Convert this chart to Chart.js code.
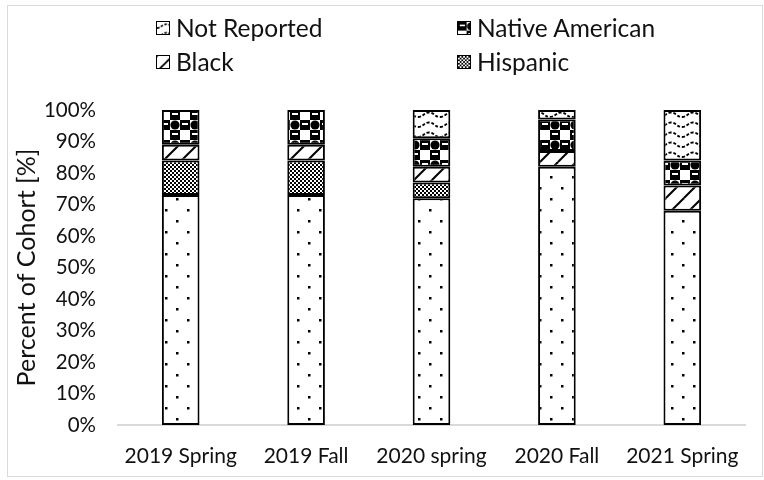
<!DOCTYPE html>
<html>
<head>
<meta charset="utf-8">
<script src="https://cdn.jsdelivr.net/npm/chart.js@4"></script>
<style>
  html, body { margin: 0; padding: 0; background: #fff; }
  #wrap { position: relative; width: 764px; height: 480px; font-family: Lato, 'Open Sans', sans-serif; }
  #frame { position: absolute; left: 7px; top: 5px; width: 754px; height: 470px; border: 1.5px solid #d9d9d9; pointer-events: none; }
  canvas#chart { position: absolute; left: 0; top: 0; }
  .leg { position: absolute; display: flex; align-items: center; font-size: 24.5px; color: #111; white-space: nowrap; }
  .leg canvas { width: 14px; height: 14px; margin-right: 6px; border: 1px solid #000; box-sizing: border-box; }
</style>
</head>
<body>
<div id="wrap">
  <canvas id="chart" width="764" height="480"></canvas>
  <div id="frame"></div>
  <div class="leg" style="left:156px;top:13px"><canvas data-k="notrep" width="14" height="14"></canvas>Not Reported</div>
  <div class="leg" style="left:457px;top:13px"><canvas data-k="native" width="14" height="14"></canvas>Native American</div>
  <div class="leg" style="left:156px;top:47px"><canvas data-k="black" width="14" height="14"></canvas>Black</div>
  <div class="leg" style="left:457px;top:47px"><canvas data-k="hisp" width="14" height="14"></canvas>Hispanic</div>
</div>
<script>
/* data */
const cohorts   = ['2019 Spring', '2019 Fall', '2020 spring', '2020 Fall', '2021 Spring'];
const white     = [73, 73, 72, 82, 68];
const hispanic  = [11, 11, 5, 0, 0];
const black     = [5, 5, 5, 5, 8];
const nativeAm  = [11, 11, 9, 10, 8];
const notRep    = [0, 0, 9, 3, 16];
const yTicks    = [0, 10, 20, 30, 40, 50, 60, 70, 80, 90, 100];

/* ── pattern tiles ── */
function tile(w, h, draw) {
  const c = document.createElement('canvas');
  c.width = w; c.height = h;
  const g = c.getContext('2d');
  g.fillStyle = '#fff'; g.fillRect(0, 0, w, h);
  g.fillStyle = '#000'; g.strokeStyle = '#000';
  draw(g, w, h);
  return c;
}
const tiles = {
  dots: tile(22, 22, g => { g.fillRect(0, 0, 2.5, 2.5); g.fillRect(11, 11, 2.5, 2.5); }),
  hisp: tile(4, 4, g => { g.fillRect(0, 0, 2, 2); g.fillRect(2, 2, 2, 2); }),
  black: tile(18, 18, g => {
    g.lineWidth = 2;
    [[0, 18, 18, 0], [-18, 18, 0, 0], [18, 18, 36, 0], [0, 36, 18, 18], [0, 0, 18, -18]].forEach(([a, b, c, d]) => {
      g.beginPath(); g.moveTo(a, b); g.lineTo(c, d); g.stroke();
    });
  }),
  native: tile(20, 20, g => {
    g.fillRect(0, 0, 10, 10); g.fillRect(10, 10, 10, 10);
    g.beginPath(); g.arc(15, 5, 4.6, 0, Math.PI * 2); g.fill();
    g.fillStyle = '#fff'; g.fillRect(2, 3, 6, 2); g.fillRect(12, 13, 6, 2);
  }),
  notrep: tile(22, 10, g => {
    g.lineWidth = 1.8; g.setLineDash([3, 1.8]);
    g.beginPath(); g.moveTo(0, 7); g.bezierCurveTo(5, 7, 6, 2.5, 11, 2.5); g.bezierCurveTo(16, 2.5, 17, 7, 22, 7); g.stroke();
  })
};

const ctx = document.getElementById('chart').getContext('2d');
const pat = k => ctx.createPattern(tiles[k], 'repeat');

/* legend swatches */
document.querySelectorAll('.leg canvas').forEach(cv => {
  const g = cv.getContext('2d');
  g.fillStyle = g.createPattern(tiles[cv.dataset.k], 'repeat');
  g.fillRect(0, 0, cv.width, cv.height);
});

function ds(label, data, k) {
  return { label, data, backgroundColor: pat(k), borderColor: '#000', borderWidth: 2, borderSkipped: false,
           barPercentage: 0.3, categoryPercentage: 1 };
}

new Chart(ctx, {
  type: 'bar',
  data: {
    labels: cohorts,
    datasets: [
      ds('White', white, 'dots'),
      ds('Hispanic', hispanic, 'hisp'),
      ds('Black', black, 'black'),
      ds('Native American', nativeAm, 'native'),
      ds('Not Reported', notRep, 'notrep')
    ]
  },
  options: {
    responsive: false,
    animation: false,
    layout: { padding: { top: 110, right: 19, bottom: 0, left: 12 } },
    plugins: { legend: { display: false }, tooltip: { enabled: false } },
    scales: {
      x: {
        stacked: true,
        grid: { display: false },
        border: { color: '#d9d9d9', width: 2 },
        ticks: { color: '#111', font: { family: 'Lato', size: 21 }, padding: 11, maxRotation: 0 },
        afterFit: s => { s.height = 55; }
      },
      y: {
        stacked: true, min: 0, max: 100,
        afterBuildTicks: s => { s.ticks = yTicks.map(v => ({ value: v })); },
        grid: { display: false },
        border: { display: false },
        ticks: { color: '#111', font: { family: 'Lato', size: 20.5 }, padding: 14, callback: v => v + '%' },
        title: { display: true, text: 'Percent of Cohort [%]', color: '#111', font: { family: 'Lato', size: 25 }, padding: 0 },
        afterFit: s => { s.width = 106; }
      }
    }
  }
});
</script>
</body>
</html>
